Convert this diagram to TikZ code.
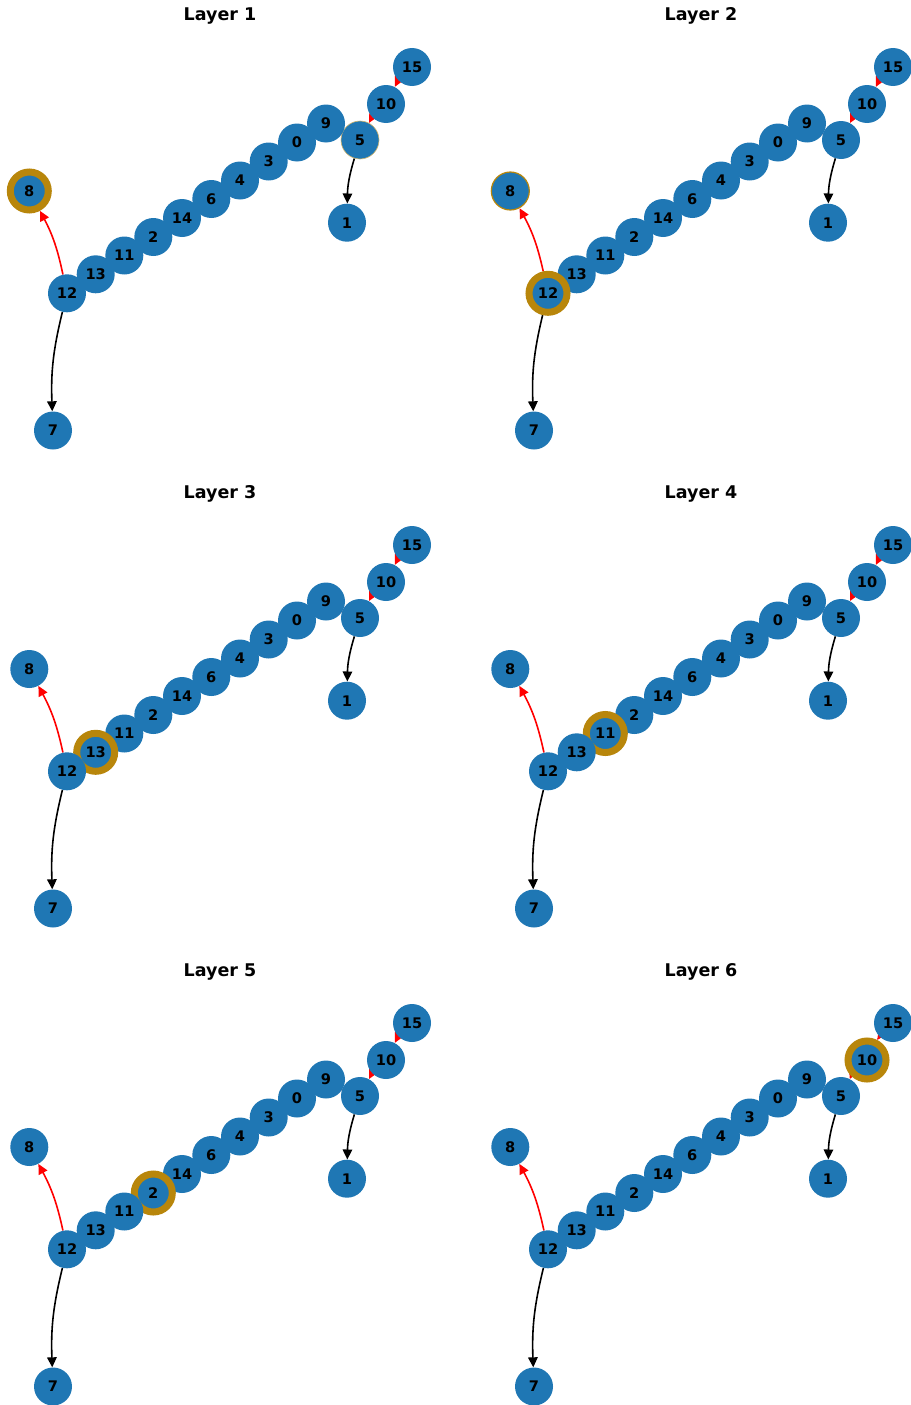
\documentclass[tikz,border=0pt]{standalone}
\usepackage{fontspec}
\setmainfont{DejaVu Sans}
\usetikzlibrary{arrows.meta}
\pgfdeclarelayer{edges}
\pgfsetlayers{edges,main}
\definecolor{nodeblue}{HTML}{1F77B4}
\definecolor{ringgold}{HTML}{B8860B}
\tikzset{
  vtx/.style={circle, fill=nodeblue, minimum size=38pt, inner sep=0pt,
    font=\fontsize{14.6}{15}\selectfont\bfseries},
  ring/.style={draw=ringgold, line width=7pt},
  thinring/.style={draw=ringgold, line width=1.2pt},
  faintring/.style={draw=ringgold!60, line width=0.6pt},
  paneltitle/.style={anchor=base, font=\fontsize{17.5}{18}\selectfont\bfseries},
  link/.style={line width=1.6pt, -{Triangle[length=10pt,width=9.5pt]}, bend right=8},
  hot/.style={link, draw=red},
  cold/.style={link, draw=black},
  v0/.style={}, v1/.style={}, v2/.style={}, v3/.style={},
  v4/.style={}, v5/.style={}, v6/.style={}, v7/.style={},
  v8/.style={}, v9/.style={}, v10/.style={}, v11/.style={},
  v12/.style={}, v13/.style={}, v14/.style={}, v15/.style={}
}
% One panel of the graph: #1 shift, #2 title, #3 name prefix, #4 per-vertex styles
\newcommand\drawpanel[4]{%
  \begin{scope}[shift={#1}, #4]
    \node[paneltitle] (#3-title) at (220,20.7) {#2};
    \node[vtx,v15] (#3-15) at (412,67) {15};
    \node[vtx,v10] (#3-10) at (386,104) {10};
    \node[vtx,v5]  (#3-5)  at (360,140) {5};
    \node[vtx,v9]  (#3-9)  at (326,123.5) {9};
    \node[vtx,v0]  (#3-0)  at (297,142.5) {0};
    \node[vtx,v3]  (#3-3)  at (268.7,161.5) {3};
    \node[vtx,v4]  (#3-4)  at (240,180.5) {4};
    \node[vtx,v6]  (#3-6)  at (211.3,199) {6};
    \node[vtx,v14] (#3-14) at (182,218) {14};
    \node[vtx,v2]  (#3-2)  at (153.3,237) {2};
    \node[vtx,v11] (#3-11) at (124.3,255.5) {11};
    \node[vtx,v13] (#3-13) at (95.7,274.3) {13};
    \node[vtx,v12] (#3-12) at (67,293.3) {12};
    \node[vtx,v8]  (#3-8)  at (29.3,191) {8};
    \node[vtx,v1]  (#3-1)  at (347,222.7) {1};
    \node[vtx,v7]  (#3-7)  at (53,430.5) {7};
    \begin{pgfonlayer}{edges}
      \draw[hot]  (#3-12) to (#3-8);
      \draw[cold] (#3-12) to (#3-7);
      \draw[cold] (#3-5) to (#3-1);
      \draw[hot]  (#3-15) to (#3-10);
      \draw[hot]  (#3-10) to (#3-5);
      \draw[hot]  (#3-9) to (#3-5);
    \end{pgfonlayer}
  \end{scope}}
\begin{document}
\begin{tikzpicture}[x=1pt,y=-1pt]
  \useasboundingbox (0,0) rectangle (910,1405);
  \drawpanel{(0,0)}{Layer 1}{a}{v8/.style={ring}, v5/.style={faintring}}
  \drawpanel{(481,0)}{Layer 2}{b}{v12/.style={ring}, v8/.style={thinring}}
  \drawpanel{(0,478)}{Layer 3}{c}{v13/.style={ring}}
  \drawpanel{(481,478)}{Layer 4}{d}{v11/.style={ring}}
  \drawpanel{(0,956)}{Layer 5}{e}{v2/.style={ring}}
  \drawpanel{(481,956)}{Layer 6}{f}{v10/.style={ring}}
\end{tikzpicture}
\end{document}
